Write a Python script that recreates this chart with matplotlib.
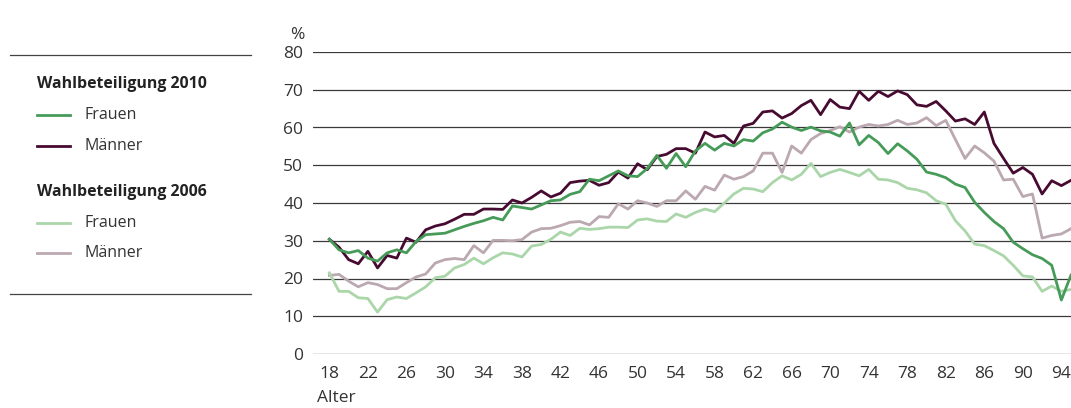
import matplotlib
matplotlib.use("Agg")
import matplotlib.pyplot as plt
from matplotlib.lines import Line2D

plt.rcParams['font.family'] = ['Open Sans', 'DejaVu Sans']

ages = list(range(18, 96))

maenner_2010 = [30.4, 28.3, 25.0, 23.9, 27.2, 22.8, 26.1, 25.4, 30.7, 29.6,
                32.9, 33.9, 34.5, 35.7, 37.0, 37.0, 38.4, 38.4, 38.3, 40.8,
                40.0, 41.5, 43.2, 41.6, 42.6, 45.4, 45.8, 46.0, 44.7, 45.4,
                48.2, 46.6, 50.4, 48.8, 52.3, 52.9, 54.4, 54.4, 53.2, 58.8,
                57.5, 57.9, 55.8, 60.4, 61.1, 64.1, 64.4, 62.5, 63.7, 65.8,
                67.2, 63.4, 67.4, 65.4, 65.0, 69.6, 67.2, 69.6, 68.2, 69.7,
                68.7, 66.0, 65.6, 66.9, 64.4, 61.7, 62.3, 60.8, 64.1, 55.8,
                51.8, 47.9, 49.4, 47.6, 42.4, 45.9, 44.6, 46.0]

frauen_2010 = [30.4, 27.6, 26.8, 27.4, 25.4, 24.6, 26.8, 27.6, 26.8, 29.8,
               31.6, 31.8, 32.0, 32.9, 33.8, 34.6, 35.3, 36.2, 35.5, 39.2,
               38.8, 38.4, 39.5, 40.6, 40.8, 42.3, 43.0, 46.3, 45.9, 47.2,
               48.5, 47.2, 47.0, 49.1, 52.6, 49.2, 53.1, 49.6, 53.8, 55.8,
               54.0, 55.8, 55.1, 56.8, 56.4, 58.6, 59.6, 61.4, 60.1, 59.2,
               60.1, 59.1, 58.8, 57.7, 61.2, 55.4, 57.9, 56.0, 53.1, 55.7,
               53.8, 51.6, 48.2, 47.6, 46.7, 45.0, 44.1, 40.2, 37.5, 35.1,
               33.2, 29.6, 27.9, 26.3, 25.3, 23.5, 14.3, 20.9]

frauen_2006 = [21.5, 16.6, 16.6, 14.9, 14.7, 11.1, 14.4, 15.1, 14.7, 16.2,
               17.8, 20.2, 20.6, 22.8, 23.7, 25.4, 23.9, 25.5, 26.8, 26.5,
               25.7, 28.6, 29.0, 30.4, 32.3, 31.4, 33.3, 33.0, 33.2, 33.6,
               33.6, 33.5, 35.5, 35.8, 35.2, 35.1, 37.1, 36.2, 37.5, 38.4,
               37.7, 40.0, 42.4, 43.9, 43.7, 43.0, 45.4, 47.2, 46.1, 47.6,
               50.5, 47.0, 48.1, 48.9, 48.1, 47.2, 48.9, 46.3, 46.1, 45.4,
               43.9, 43.5, 42.7, 40.6, 39.7, 35.3, 32.6, 29.1, 28.7, 27.4,
               26.0, 23.5, 20.7, 20.4, 16.6, 18.0, 16.6, 17.1]

maenner_2006 = [20.8, 21.1, 19.3, 17.8, 18.9, 18.4, 17.3, 17.3, 18.9, 20.4,
                21.2, 24.1, 25.0, 25.3, 25.0, 28.7, 26.8, 30.1, 30.1, 30.0,
                30.3, 32.3, 33.2, 33.3, 34.0, 34.9, 35.1, 34.2, 36.4, 36.2,
                39.8, 38.4, 40.6, 40.0, 39.1, 40.6, 40.6, 43.2, 41.0, 44.4,
                43.4, 47.4, 46.3, 47.0, 48.5, 53.2, 53.2, 48.1, 55.1, 53.2,
                56.8, 58.4, 59.2, 60.2, 58.8, 60.1, 60.8, 60.4, 60.8, 61.9,
                60.8, 61.2, 62.6, 60.5, 61.9, 56.8, 51.8, 55.1, 53.3, 51.1,
                46.1, 46.3, 41.7, 42.4, 30.7, 31.4, 31.8, 33.2]

x_ticks = list(range(18, 95, 4))
y_ticks = list(range(0, 81, 10))

C_F10 = '#469b59'
C_M10 = '#470a30'
C_F06 = '#aad6aa'
C_M06 = '#bba8b1'
TXT = '#333333'

W, H = 1071, 408
fig = plt.figure(figsize=(W / 100, H / 100), dpi=100)
ax = fig.add_axes([313 / W, (H - 354) / H, (1071 - 313) / W, 302 / H])

for yv in y_ticks:
    ax.axhline(yv, color='#3a3a3a', lw=0.9, zorder=1)

ax.plot(ages, maenner_2006, color=C_M06, lw=2.0, zorder=2)
ax.plot(ages, frauen_2006, color=C_F06, lw=2.0, zorder=2)
ax.plot(ages, maenner_2010, color=C_M10, lw=2.0, zorder=3)
ax.plot(ages, frauen_2010, color=C_F10, lw=2.0, zorder=4)

ax.set_xlim(16.3, 95.0)
ax.set_ylim(0, 80)
ax.set_xticks(x_ticks)
ax.set_yticks(y_ticks)
ax.tick_params(axis='both', length=0, labelsize=12.5, colors=TXT)
ax.tick_params(axis='x', pad=9)
ax.tick_params(axis='y', pad=7)
for s in ax.spines.values():
    s.set_visible(False)

fig.text(290 / W, 1 - 35 / H, '%', fontsize=12.5, color=TXT, va='center', ha='left')
fig.text(317 / W, 1 - 398 / H, 'Alter', fontsize=12.5, color=TXT, va='center', ha='left')

# legend panel
def fx(px):
    return px / W

def fy(py):
    return 1 - py / H

fig.add_artist(Line2D([fx(10), fx(251)], [fy(55), fy(55)], color='#444444', lw=0.9))
fig.add_artist(Line2D([fx(10), fx(251)], [fy(294), fy(294)], color='#444444', lw=0.9))

legend_items = [
    ('Wahlbeteiligung 2010', None, 84),
    ('Frauen', C_F10, 115),
    ('Männer', C_M10, 146),
    ('Wahlbeteiligung 2006', None, 192),
    ('Frauen', C_F06, 223),
    ('Männer', C_M06, 253),
]
for label, col, py in legend_items:
    if col is None:
        fig.text(fx(37), fy(py), label, fontsize=11.4, fontweight='bold', color='#222222',
                 va='center', ha='left')
    else:
        fig.add_artist(Line2D([fx(37), fx(70)], [fy(py), fy(py)], color=col, lw=2.0))
        fig.text(fx(85), fy(py), label, fontsize=11.5, color=TXT, va='center', ha='left')

fig.savefig('out.png', dpi=100)
